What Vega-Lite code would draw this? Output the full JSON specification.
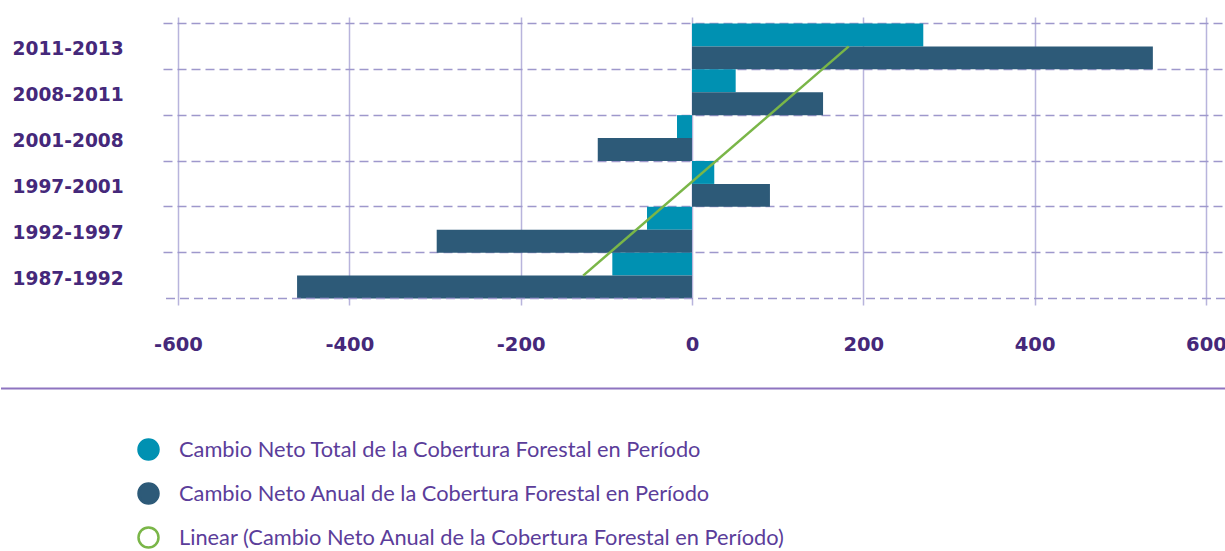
{
  "$schema": "https://vega.github.io/schema/vega-lite/v6.json",
  "padding": {"top": 17, "left": 0, "right": 0, "bottom": 0},
  "background": "white",
  "config": {"view": {"stroke": null}, "font": "Lato", "concat": {"spacing": 33}},
  "datasets": {
    "bars": [
      {"period": "2011-2013", "series": "Cambio Neto Total de la Cobertura Forestal en Período", "value": 270},
      {"period": "2011-2013", "series": "Cambio Neto Anual de la Cobertura Forestal en Período", "value": 538},
      {"period": "2008-2011", "series": "Cambio Neto Total de la Cobertura Forestal en Período", "value": 51},
      {"period": "2008-2011", "series": "Cambio Neto Anual de la Cobertura Forestal en Período", "value": 153},
      {"period": "2001-2008", "series": "Cambio Neto Total de la Cobertura Forestal en Período", "value": -17.5},
      {"period": "2001-2008", "series": "Cambio Neto Anual de la Cobertura Forestal en Período", "value": -110},
      {"period": "1997-2001", "series": "Cambio Neto Total de la Cobertura Forestal en Período", "value": 26},
      {"period": "1997-2001", "series": "Cambio Neto Anual de la Cobertura Forestal en Período", "value": 91},
      {"period": "1992-1997", "series": "Cambio Neto Total de la Cobertura Forestal en Período", "value": -52.5},
      {"period": "1992-1997", "series": "Cambio Neto Anual de la Cobertura Forestal en Período", "value": -298},
      {"period": "1987-1992", "series": "Cambio Neto Total de la Cobertura Forestal en Período", "value": -93},
      {"period": "1987-1992", "series": "Cambio Neto Anual de la Cobertura Forestal en Período", "value": -461}
    ],
    "trend": [
      {"period": "1987-1992", "trend": -127},
      {"period": "2011-2013", "trend": 183}
    ],
    "edge": [{"period": "1987-1992"}],
    "sep": [{"pos": 0}]
  },
  "vconcat": [
    {
      "width": 1062,
      "height": 288,
      "encoding": {
        "y": {
          "field": "period", "type": "nominal",
          "sort": ["2011-2013", "2008-2011", "2001-2008", "1997-2001", "1992-1997", "1987-1992"],
          "scale": {"paddingInner": 0, "paddingOuter": 0.142},
          "axis": {
            "title": null, "ticks": false, "domain": false, "grid": true, "bandPosition": 0,
            "gridDash": [9, 5], "gridColor": "#9e98cc", "gridWidth": 1.5,
            "labelAlign": "left", "labelPadding": 151, "labelFont": "DejaVu Sans", "labelFontWeight": "bold",
            "labelFontSize": 18.6, "labelColor": "#45287a", "minExtent": 163, "maxExtent": 163, "labelOffset": 3
          }
        }
      },
      "layer": [
        {
          "data": {"name": "bars"},
          "mark": {"type": "bar"},
          "encoding": {
            "yOffset": {
              "field": "series", "type": "nominal",
              "sort": ["Cambio Neto Total de la Cobertura Forestal en Período", "Cambio Neto Anual de la Cobertura Forestal en Período"],
              "scale": {"paddingInner": 0, "paddingOuter": 0}
            },
            "x": {
              "field": "value", "type": "quantitative", "stack": null,
              "scale": {"domain": [-617.5, 622.2], "nice": false, "zero": false},
              "axis": {
                "title": null, "values": [-600, -400, -200, 0, 200, 400, 600], "ticks": false, "domain": false,
                "grid": true, "gridColor": "#b8b4dc", "gridWidth": 1.5, "labelPadding": 30,
                "labelFont": "DejaVu Sans", "labelFontSize": 19.5, "labelFontWeight": "bold", "labelColor": "#45287a",
                "labelFlush": false, "labelOverlap": false,
                "labelExpr": "datum.value < 0 ? '-' + abs(datum.value) : '' + datum.value"
              }
            },
            "color": {
              "field": "series", "type": "nominal",
              "scale": {
                "domain": ["Cambio Neto Total de la Cobertura Forestal en Período", "Cambio Neto Anual de la Cobertura Forestal en Período", "Linear (Cambio Neto Anual de la Cobertura Forestal en Período)"],
                "range": ["#0091b2", "#2d5a78", "#7ab648"]
              },
              "legend": {
                "orient": "none", "legendX": -26, "legendY": 421, "direction": "vertical", "title": null,
                "symbolType": "circle", "symbolSize": 400, "labelFont": "Lato", "labelFontSize": 21.8,
                "labelColor": "#5b3d9a", "labelOffset": 19, "rowPadding": 13, "padding": 0, "labelLimit": 0,
                "encode": {
                  "symbols": {
                    "update": {
                      "fill": {"signal": "indexof(datum.label, 'Linear') === 0 ? '#ffffff' : (indexof(datum.label, 'Total') > 0 ? '#0091b2' : '#2d5a78')"},
                      "fillOpacity": {"signal": "indexof(datum.label, 'Linear') === 0 ? 0 : 1"},
                      "stroke": {"signal": "indexof(datum.label, 'Linear') === 0 ? '#7ab648' : (indexof(datum.label, 'Total') > 0 ? '#0091b2' : '#2d5a78')"},
                      "strokeWidth": {"value": 2.5},
                      "opacity": {"value": 1}
                    }
                  }
                }
              }
            }
          }
        },
        {
          "data": {"name": "edge"},
          "mark": {"type": "rule", "strokeDash": [9, 5], "color": "#9e98cc", "strokeWidth": 1.5},
          "encoding": {"y": {"field": "period", "type": "nominal", "bandPosition": 1}}
        },
        {
          "data": {"name": "trend"},
          "mark": {"type": "line", "strokeWidth": 2.5},
          "encoding": {
            "x": {"field": "trend", "type": "quantitative"},
            "color": {"datum": "Linear (Cambio Neto Anual de la Cobertura Forestal en Período)"}
          }
        }
      ]
    },
    {
      "width": 1062,
      "height": 1,
      "data": {"name": "sep"},
      "mark": {"type": "rule", "color": "#8e74c0", "strokeWidth": 2},
      "encoding": {
        "y": {"field": "pos", "type": "quantitative", "axis": null},
        "x": {"datum": -806.6, "type": "quantitative", "scale": {"domain": [-617.5, 622.2], "nice": false, "zero": false}, "axis": null},
        "x2": {"datum": 622.2}
      }
    }
  ],
  "resolve": {"scale": {"x": "independent"}}
}
